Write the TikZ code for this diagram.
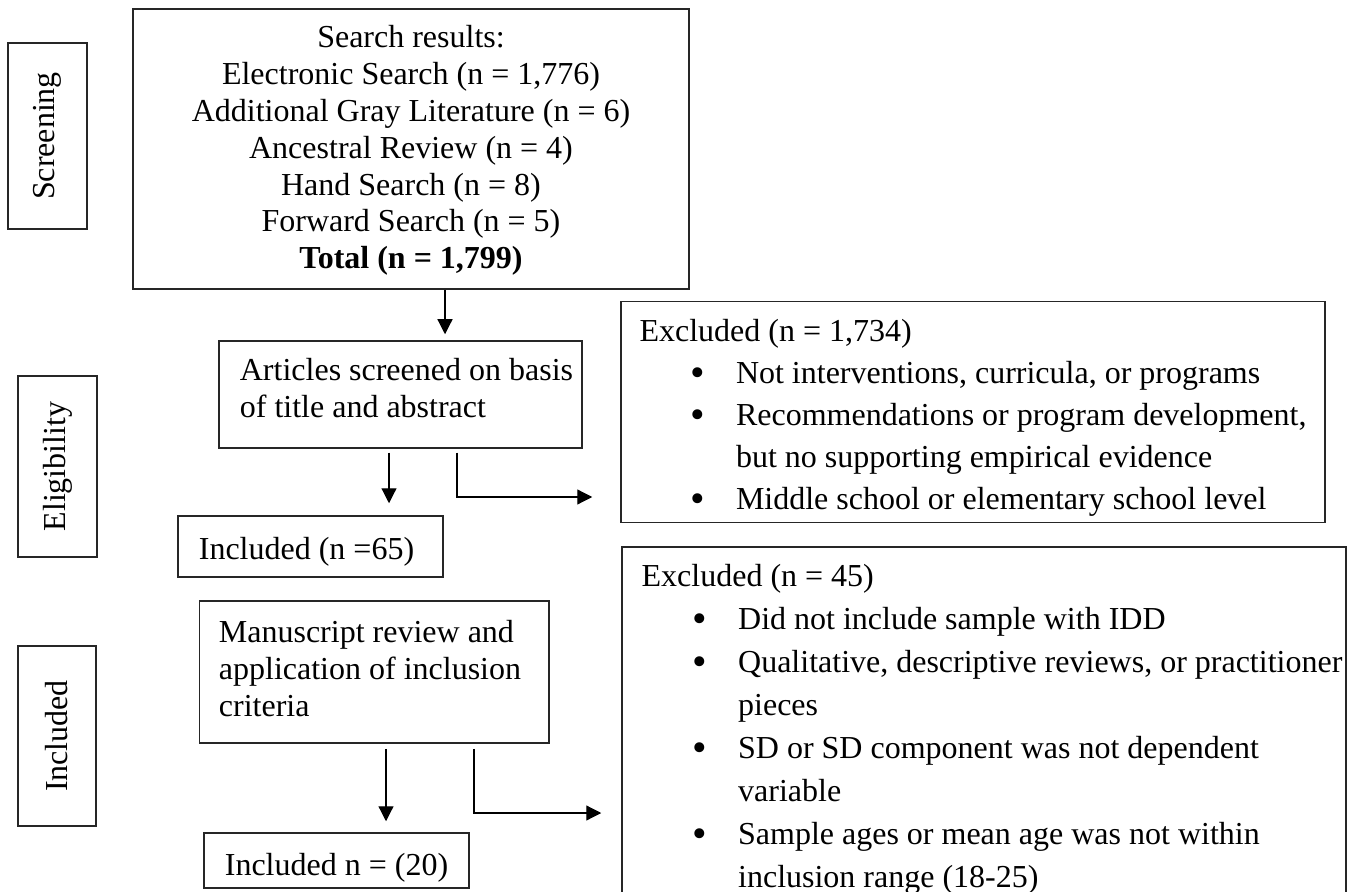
\documentclass[tikz,border=0pt]{standalone}
\usepackage{fontspec}
\setmainfont{Liberation Serif}
\usetikzlibrary{arrows.meta}
\newcommand\myblt{\hspace*{25.5pt}\makebox[22.75pt][l]{\raisebox{-1.3pt}{\scalebox{1.3}{\textbullet}}}}
\newcommand\myind{\hspace*{48.25pt}}
\begin{document}
\begin{tikzpicture}[x=0.5pt,y=-0.5pt,
  box/.style={draw=black!85, line width=0.75pt, inner sep=0pt, align=left,
    font=\fontsize{16}{18.4}\selectfont},
  side/.style={draw=black!85, line width=0.75pt, rotate=90, inner sep=0pt,
    font=\fontsize{16}{18.4}\selectfont},
  arr/.style={line width=0.6pt, -{Triangle[length=7.5pt,width=7.5pt]}},
]
\useasboundingbox (0,0) rectangle (1358,892);

% phase labels
\node[side, minimum width=93pt, minimum height=39.5pt] (screening) at (47.5,136) {Screening};
\node[side, minimum width=90.5pt, minimum height=39.5pt] (eligibility) at (57.5,466.5) {Eligibility};
\node[side, minimum width=90pt, minimum height=39pt] (included) at (57,736) {Included};

% main boxes
\node[box, align=center, minimum width=278pt, minimum height=140pt] (search) at (411,149)
  {\rule{0pt}{14.88pt}Search results:\\ Electronic Search (n = 1,776)\\ Additional Gray Literature (n = 6)\\
   Ancestral Review (n = 4)\\ Hand Search (n = 8)\\ Forward Search (n = 5)\\ \textbf{Total (n = 1,799)}\strut};

\node[box, minimum width=181.5pt, minimum height=53.5pt] (articles) at (400.5,394.5)
  {\strut\hspace*{6pt}Articles screened on basis\\ \hspace*{6pt}of title and abstract\rule[-8.52pt]{0pt}{0pt}};

\node[box, font=\fontsize{16}{21}\selectfont, minimum width=352pt, minimum height=110.25pt] (excl1) at (973,412)
  {\rule{0pt}{19.7pt}Excluded (n = 1,734)\\
   \myblt Not interventions, curricula, or programs\\
   \myblt Recommendations or program development,\\
   \myind but no supporting empirical evidence\\
   \myblt Middle school or elementary school level\strut};

\node[box, minimum width=132.5pt, minimum height=30.5pt] (incl65) at (310.5,546.5)
  {\rule{0pt}{16.88pt}Included (n =65)\hspace*{4pt}};

\node[box, minimum width=174.75pt, minimum height=71pt] (manus) at (374,672)
  {\strut Manuscript review and\\ application of inclusion\kern4pt\mbox{}\\ criteria\strut};

\node[box, font=\fontsize{16}{21.5}\selectfont, minimum width=362pt, minimum height=181.5pt] (excl2) at (984,728.5)
  {\strut Excluded (n = 45)\\
   \myblt Did not include sample with IDD\\
   \myblt Qualitative, descriptive reviews, or practitioner\kern-8pt\mbox{}\\
   \myind pieces\\
   \myblt SD or SD component was not dependent\\
   \myind variable\\
   \myblt Sample ages or mean age was not within\\
   \myind inclusion range (18-25)\strut};

\node[box, minimum width=132.5pt, minimum height=27.5pt] (incl20) at (336.5,860.5)
  {\rule{0pt}{18.88pt}Included n = (20)};

% connector guide coordinates
\coordinate (a1) at (445,0);
\coordinate (a2) at (389,0);
\coordinate (k1) at (457,497);
\coordinate (a4) at (386,0);
\coordinate (k2) at (474,813);

% connectors
\draw[arr, shorten >=3pt] (a1 |- search.south) -- (a1 |- articles.north);
\draw[arr, shorten <=2pt, shorten >=6pt] (a2 |- articles.south) -- (a2 |- incl65.north);
\draw[arr, shorten <=2pt, shorten >=14pt] (k1 |- articles.south) -- (k1) -- (k1 -| excl1.west);
\draw[arr, shorten <=2.5pt, shorten >=5.5pt] (a4 |- manus.south) -- (a4 |- incl20.north);
\draw[arr, shorten <=2.5pt, shorten >=10pt] (k2 |- manus.south) -- (k2) -- (k2 -| excl2.west);
\end{tikzpicture}
\end{document}
